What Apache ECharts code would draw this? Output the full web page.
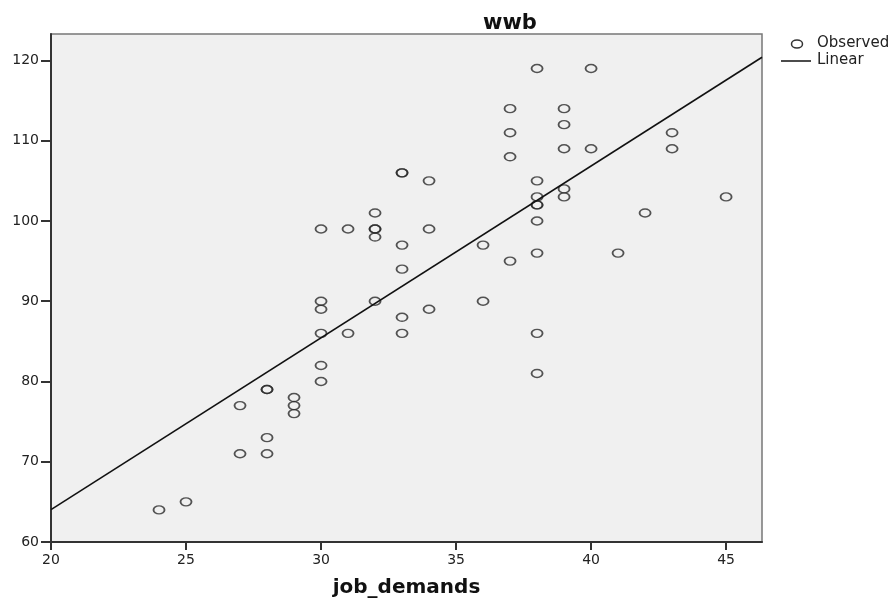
<!DOCTYPE html>
<html>
<head>
<meta charset="utf-8">
<script src="https://cdn.jsdelivr.net/npm/echarts@6/dist/echarts.min.js"></script>
<style>html,body{margin:0;padding:0;background:#fff}#c{width:896px;height:599px}</style>
</head>
<body>
<div id="c"></div>
<script>
// Observed data: job_demands (x) and wwb (y)
const jobDemands = [24,25,27,27,28,28,28,28,29,29,29,
  30,30,30,30,30,30,31,31,32,32,32,32,32,
  33,33,33,33,33,33,34,34,34,36,36,
  37,37,37,37,38,38,38,38,38,38,38,38,38,
  39,39,39,39,39,40,40,41,42,43,43,45];
const wwb = [64,65,77,71,79,79,73,71,78,77,76,
  99,90,89,86,82,80,99,86,101,99,99,98,90,
  106,106,97,94,88,86,105,99,89,97,90,
  114,111,108,95,119,105,103,102,102,100,96,86,81,
  114,112,109,104,103,119,109,96,101,111,109,103];
// Linear fit line endpoints
const linearX = [20, 46.33];
const linearY = [64.04, 120.4];
const xTicks = [20,25,30,35,40,45];
const yTicks = [60,70,80,90,100,110,120];

const chart = echarts.init(document.getElementById('c'), null, {renderer:'canvas'});
const font = 'DejaVu Sans';
chart.setOption({
  animation:false,
  backgroundColor:'#fff',
  title:{text:'wwb', left:478, top:8, textStyle:{fontFamily:font, fontWeight:'bold', fontSize:21, color:'#111'}},
  grid:{left:51, right:134, top:34, bottom:57, outerBoundsMode:'none', containLabel:false,
    show:true, backgroundColor:'#f0f0f0', borderColor:'#777', borderWidth:1.5},
  xAxis:{type:'value', min:20, max:46.33, interval:5,
    name:'job_demands', nameLocation:'middle', nameGap:36,
    nameTextStyle:{fontFamily:font, fontWeight:'bold', fontSize:20, color:'#111'},
    splitLine:{show:false},
    axisLine:{show:true, onZero:false, lineStyle:{color:'#333', width:2}},
    axisTick:{show:true, inside:false, length:8, customValues:xTicks, lineStyle:{color:'#333', width:2}},
    axisLabel:{customValues:xTicks, margin:11, fontFamily:font, fontSize:14, color:'#222'}},
  yAxis:{type:'value', min:60, max:123.3, interval:10,
    splitLine:{show:false},
    axisLine:{show:true, onZero:false, lineStyle:{color:'#333', width:2}},
    axisTick:{show:true, inside:false, length:10, customValues:yTicks, lineStyle:{color:'#333', width:2}},
    axisLabel:{customValues:yTicks, margin:12, fontFamily:font, fontSize:14, color:'#222'}},
  series:[
    {type:'scatter', name:'Observed', data:jobDemands.map((x,i)=>[x,wwb[i]]),
      symbol:'circle', symbolSize:[11,8],
      itemStyle:{color:'rgba(0,0,0,0)', borderColor:'#2a2a2a', borderWidth:1.6}},
    {type:'line', name:'Linear', data:linearX.map((x,i)=>[x,linearY[i]]),
      showSymbol:false, symbol:'none', lineStyle:{color:'#111', width:1.6}}
  ],
  graphic:[
    {type:'ellipse', shape:{cx:797, cy:44, rx:5.5, ry:4}, style:{fill:'none', stroke:'#333', lineWidth:1.5}},
    {type:'text', left:817, top:36, style:{text:'Observed', font:'15px "DejaVu Sans"', fill:'#222'}},
    {type:'line', shape:{x1:781, y1:61, x2:811, y2:61}, style:{stroke:'#111', lineWidth:1.5}},
    {type:'text', left:817, top:53, style:{text:'Linear', font:'15px "DejaVu Sans"', fill:'#222'}}
  ]
});
</script>
</body>
</html>
